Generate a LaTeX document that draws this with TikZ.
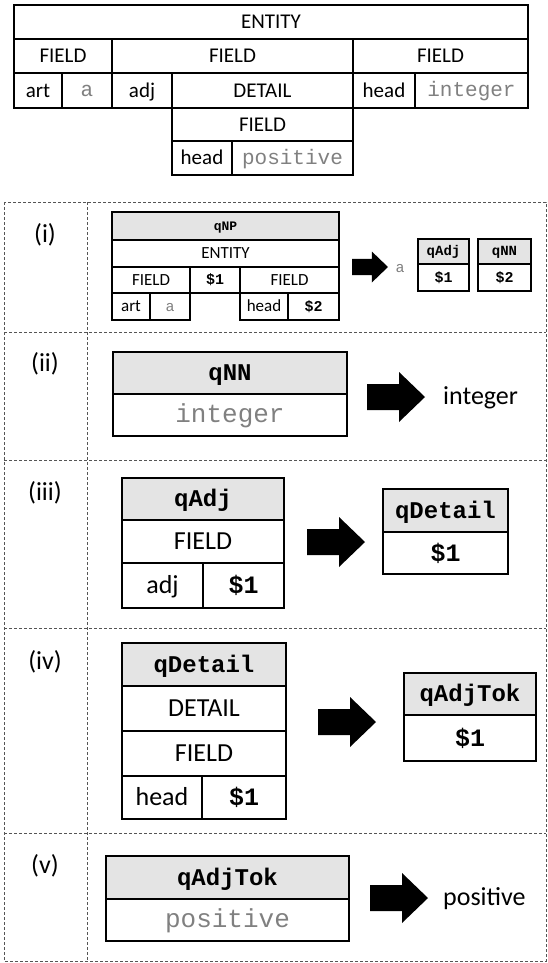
\documentclass[tikz,border=0pt]{standalone}
\usepackage{fontspec}
\setmainfont{Carlito}
\newfontfamily\codefont{Liberation Mono}
\definecolor{tagfill}{RGB}{228,228,228}
\definecolor{txtgray}{RGB}{128,128,128}
\definecolor{framegray}{RGB}{85,85,85}
\begin{document}
\begin{tikzpicture}[x=1pt,y=-1pt,line join=miter,
    box/.style={draw,line width=1.8pt,inner sep=0pt,outer sep=0pt,anchor=center,text depth=0pt},
    thin box/.style={line width=1.4pt},
    word/.style={font=\fontsize{#1}{#1}\selectfont,text height={.64*#1}},
    gword/.style={font=\codefont\fontsize{#1}{#1}\selectfont,text=txtgray,text height={.6*#1}},
    slot/.style={font=\codefont\bfseries\fontsize{#1}{#1}\selectfont,text height={.64*#1}},
    rulehead/.style={slot=#1,fill=tagfill},
    frame/.style={draw=framegray,line width=.9pt,dash pattern=on 3pt off 2pt},
    pics/rulearrow/.style={code={\fill (0,-13) -- (32,-13) -- (32,-25) -- (58,0) -- (32,25) -- (32,13) -- (0,13) -- cycle;}}]
    \def\cell#1#2#3#4#5#6#7{\node[box,#2,minimum width={#5-#3},minimum height={#6-#4}] (#1) at ({(#3+#5)/2},{(#4+#6)/2}) {#7};}
    \useasboundingbox (0,0) rectangle (548,963);

    % parse of the whole phrase
    \cell{ent}{word=21}{14}{5}{528}{39}{ENTITY}
    \cell{fa}{word=21}{14}{39}{112}{73}{FIELD}
    \cell{fb}{word=21}{112}{39}{353}{73}{FIELD}
    \cell{fc}{word=21}{353}{39}{528}{73}{FIELD}
    \cell{art}{word=21}{14}{73}{62}{108}{art}
    \cell{artv}{gword=21}{62}{73}{112}{108}{a}
    \cell{adj}{word=21}{112}{73}{172}{108}{adj}
    \cell{det}{word=21}{172}{73}{353}{108}{DETAIL}
    \cell{hd}{word=21}{353}{73}{415}{108}{head}
    \cell{hdv}{gword=21}{415}{73}{528}{108}{integer}
    \cell{fd}{word=21}{172}{108}{353}{141}{FIELD}
    \cell{hdb}{word=21}{172}{141}{232}{175}{head}
    \cell{hdbv}{gword=21}{232}{141}{353}{175}{positive}

    % rule table
    \draw[frame] (4,202) rectangle (546,961);
    \draw[frame] (87,202) -- (87,961);
    \foreach \y in {332,460,628,833} \draw[frame] (4,\y) -- (546,\y);
    \foreach \t/\y [count=\i] in {{(i)}/235,{(ii)}/364,{(iii)}/493,{(iv)}/662,{(v)}/866}
        \node[font=\fontsize{26}{26}\selectfont] (lab\i) at (45,\y) {\t};

    % (i)
    \begin{scope}[every node/.append style={thin box}]
    \cell{np}{rulehead=13}{112}{212}{339}{240}{qNP}
    \cell{enta}{word=17}{112}{240}{339}{267}{ENTITY}
    \cell{fla}{word=17}{112}{267}{190}{293}{FIELD}
    \cell{sla}{slot=15}{190}{267}{240}{293}{\$1}
    \cell{flb}{word=17}{240}{267}{339}{293}{FIELD}
    \cell{arta}{word=17}{112}{293}{150}{320}{art}
    \cell{artva}{gword=15}{150}{293}{190}{320}{a}
    \cell{hda}{word=17}{240}{293}{288}{320}{head}
    \cell{slb}{slot=15}{288}{293}{339}{320}{\$2}
    \cell{qadj}{rulehead=14}{418}{239}{469}{264}{qAdj}
    \cell{qadjs}{slot=15}{418}{264}{469}{291}{\$1}
    \cell{qnn}{rulehead=14}{478}{239}{531}{264}{qNN}
    \cell{qnns}{slot=15}{478}{264}{531}{291}{\$2}
    \end{scope}
    \pic[scale=.62] at (352,267) {rulearrow};
    \node[gword=15,inner sep=0pt] (outa) at (400,268) {a};

    % (ii)
    \cell{nn}{rulehead=24}{113}{352}{347}{394}{qNN}
    \cell{nnv}{gword=26}{113}{394}{347}{436}{integer}
    \pic at (367,397) {rulearrow};
    \node[word=26,anchor=west,inner sep=0pt] (outint) at (443,398) {integer};

    % (iii)
    \cell{adjr}{rulehead=24}{122}{478}{284}{520}{qAdj}
    \cell{adjf}{word=26}{122}{520}{284}{563}{FIELD}
    \cell{adjw}{word=26}{122}{563}{203}{608}{adj}
    \cell{adjs}{slot=25}{203}{563}{284}{608}{\$1}
    \pic at (307,542) {rulearrow};
    \cell{detr}{rulehead=24}{383}{489}{508}{532}{qDetail}
    \cell{dets}{slot=25}{383}{532}{508}{574}{\$1}

    % (iv)
    \cell{detl}{rulehead=24}{122}{643}{286}{686}{qDetail}
    \cell{detd}{word=26}{122}{686}{286}{731}{DETAIL}
    \cell{detf}{word=26}{122}{731}{286}{776}{FIELD}
    \cell{deth}{word=26}{122}{776}{202}{819}{head}
    \cell{detv}{slot=25}{202}{776}{286}{819}{\$1}
    \pic at (318,722) {rulearrow};
    \cell{tokr}{rulehead=24}{404}{673}{536}{715}{qAdjTok}
    \cell{toks}{slot=25}{404}{715}{536}{761}{\$1}

    % (v)
    \cell{tok}{rulehead=24}{106}{856}{349}{899}{qAdjTok}
    \cell{tokv}{gword=26}{106}{899}{349}{941}{positive}
    \pic at (370,898) {rulearrow};
    \node[word=26,anchor=west,inner sep=0pt] (outpos) at (443,899) {positive};
\end{tikzpicture}
\end{document}
